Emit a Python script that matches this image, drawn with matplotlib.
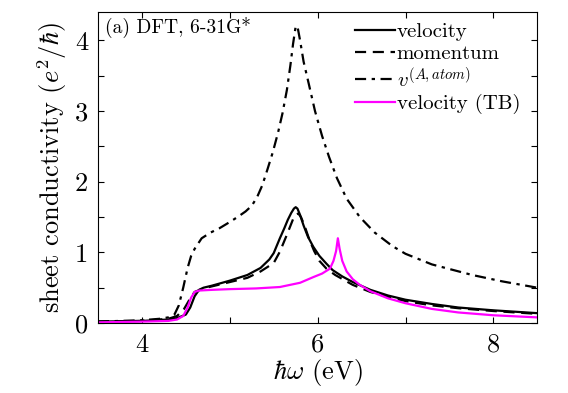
import numpy as np
import matplotlib
matplotlib.use('Agg')
import matplotlib.pyplot as plt

plt.rcParams['font.family'] = 'serif'
plt.rcParams['font.serif'] = ['cmr10']
plt.rcParams['mathtext.fontset'] = 'cm'
plt.rcParams['axes.formatter.use_mathtext'] = True

# photon energy (eV) and sheet conductivity (e^2/hbar)
x_vel = [3.5, 4.0, 4.3, 4.4, 4.5, 4.55, 4.6, 4.65, 4.7, 4.8, 5.0, 5.2, 5.35,
         5.45, 5.5, 5.57, 5.62, 5.66, 5.7, 5.73, 5.75, 5.77, 5.8, 5.84,
         5.89, 5.95, 6.02, 6.1, 6.17, 6.28, 6.4, 6.6, 6.8, 7.0, 7.3, 7.6,
         8.0, 8.5]
y_vel = [0.02, 0.03, 0.05, 0.07, 0.12, 0.22, 0.38, 0.47, 0.5, 0.53, 0.6,
         0.68, 0.78, 0.9, 0.99, 1.2, 1.34, 1.46, 1.56, 1.62, 1.64, 1.62,
         1.53, 1.38, 1.22, 1.08, 0.95, 0.84, 0.75, 0.66, 0.58, 0.47, 0.39,
         0.33, 0.27, 0.22, 0.18, 0.14]

x_mom = [3.5, 4.0, 4.3, 4.4, 4.48, 4.55, 4.6, 4.7, 4.8, 5.0, 5.2, 5.35, 5.5,
         5.57, 5.65, 5.72, 5.76, 5.78, 5.81, 5.85, 5.9, 5.96, 6.02, 6.1,
         6.2, 6.4, 6.6, 6.8, 7.0, 7.3, 7.6, 8.0, 8.5]
y_mom = [0.02, 0.03, 0.06, 0.1, 0.2, 0.35, 0.44, 0.49, 0.52, 0.58, 0.64,
         0.73, 0.85, 1.01, 1.25, 1.47, 1.54, 1.55, 1.5, 1.38, 1.2, 1.02,
         0.88, 0.77, 0.68, 0.54, 0.44, 0.37, 0.31, 0.25, 0.21, 0.17, 0.13]

x_atom = [3.5, 4.0, 4.2, 4.3, 4.37, 4.42, 4.47, 4.52, 4.56, 4.6, 4.68, 4.78,
          4.88, 5.0, 5.1, 5.18, 5.25, 5.31, 5.37, 5.43, 5.49, 5.55, 5.6,
          5.65, 5.69, 5.72, 5.75, 5.77, 5.8, 5.84, 5.9, 5.97, 6.05, 6.13,
          6.22, 6.33, 6.48, 6.65, 6.85, 7.0, 7.3, 7.76, 8.1, 8.5]
y_atom = [0.02, 0.04, 0.06, 0.08, 0.12, 0.25, 0.5, 0.78, 0.95, 1.05, 1.2,
          1.28, 1.34, 1.43, 1.51, 1.58, 1.66, 1.78, 1.95, 2.18, 2.42, 2.7,
          2.97, 3.3, 3.65, 3.95, 4.2, 4.2, 4.0, 3.7, 3.38, 3.0, 2.65, 2.35,
          2.05, 1.76, 1.5, 1.28, 1.09, 0.98, 0.83, 0.68, 0.59, 0.5]

x_tb = [3.5, 4.0, 4.3, 4.4, 4.47, 4.52, 4.56, 4.6, 4.65, 4.8, 5.0, 5.3,
        5.57, 5.8, 5.95, 6.05, 6.14, 6.18, 6.21, 6.23, 6.25, 6.28, 6.33,
        6.4, 6.48, 6.6, 6.8, 7.0, 7.3, 7.6, 8.0, 8.5]
y_tb = [0.01, 0.02, 0.03, 0.05, 0.1, 0.22, 0.36, 0.44, 0.46, 0.47, 0.48,
        0.49, 0.51, 0.57, 0.65, 0.7, 0.77, 0.88, 1.02, 1.2, 1.05, 0.88,
        0.73, 0.62, 0.54, 0.45, 0.35, 0.28, 0.2, 0.15, 0.11, 0.08]

fig = plt.figure(figsize=(5.68, 3.93), dpi=100)
ax = fig.add_axes([0.1725, 0.178, 0.7735, 0.791])

ax.plot(x_vel, y_vel, color='black', lw=1.6, label='velocity')
ax.plot(x_mom, y_mom, color='black', lw=1.6, ls=(0, (5, 3)),
        label='momentum')
ax.plot(x_atom, y_atom, color='black', lw=1.6, ls=(0, (5, 2.5, 1.5, 2.5)),
        label=r'$v^{(A,atom)}$')
ax.plot(x_tb, y_tb, color='magenta', lw=1.6, label='velocity (TB)')

ax.set_xlim(3.5, 8.5)
ax.set_ylim(0, 4.4)
xt = [4, 5, 6, 7, 8]
ax.set_xticks(xt)
ax.set_xticklabels([str(v) if v % 2 == 0 else '' for v in xt])
yt = np.arange(0, 4.01, 0.5)
ax.set_yticks(yt)
ax.set_yticklabels([str(int(v)) if v == int(v) else '' for v in yt])
ax.tick_params(direction='in', top=True, right=True, length=4,
               width=0.8, labelsize=19, pad=7)

ax.set_xlabel(r'$\hbar\omega$ (eV)', fontsize=19, labelpad=0)
ax.set_ylabel(r'sheet conductivity $(e^2/\hbar)$', fontsize=19, labelpad=4)

ax.text(0.015, 0.985, '(a) DFT, 6-31G*', transform=ax.transAxes,
        fontsize=14, va='top', ha='left')
ax.legend(loc='upper right', bbox_to_anchor=(0.985, 1.0), frameon=False,
          fontsize=15, handlelength=1.9, handletextpad=0.1,
          borderaxespad=0.1, labelspacing=0.15)

fig.savefig('out.png', dpi=100)
